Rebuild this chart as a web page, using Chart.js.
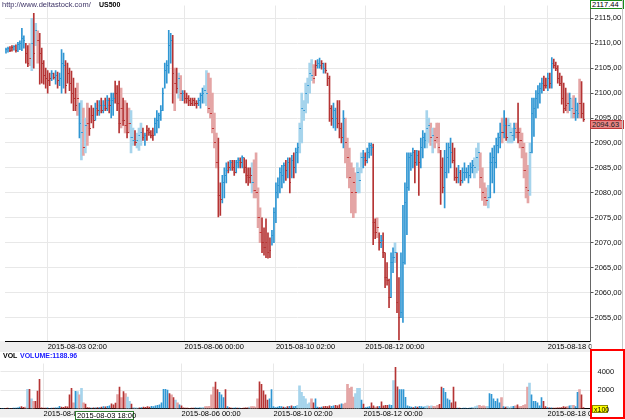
<!DOCTYPE html>
<html>
<head>
<meta charset="utf-8">
<script src="https://cdn.jsdelivr.net/npm/chart.js@4.4.0/dist/chart.umd.min.js"></script>
<style>
    body { margin: 0; width: 625px; height: 420px; overflow: hidden; position: relative; background: #fff; font-family: "Liberation Sans", Arial, sans-serif; }
    canvas { position: absolute; left: 0; }
    #main { top: 0; }
    #vol { top: 352px; }
    .txt { position: absolute; font-size: 7.5px; line-height: 9px; white-space: nowrap; }
    .box { position: absolute; box-sizing: border-box; font-size: 7.5px; line-height: 7px; white-space: nowrap; padding-left: 1px; }
</style>
</head>
<body>
<canvas id="main" width="625" height="352"></canvas>
<canvas id="vol" width="625" height="68"></canvas>

<div class="txt" style="left:2px;top:0;color:#3d3366">http://www.deltastock.com/</div>
<div class="txt" style="left:99px;top:0;color:#000;font-weight:bold;font-size:7px">US500</div>
<div class="txt" style="left:3px;top:351px;color:#000;font-weight:bold;font-size:7px">VOL</div>
<div class="txt" style="left:20px;top:351px;color:#1a1aff;font-weight:bold;font-size:7px">VOLUME:1188.96</div>

<div class="box" style="left:590px;top:0;width:34px;height:9px;border:1px solid #1a8a1a;background:#fff">2117.44</div>
<div class="box" id="lastBox" style="left:590px;top:116px;width:34px;height:9px;border:1px solid #c03838;background:#e88585;color:#222">2094.63</div>
<div style="position:absolute;left:622px;top:0;width:1px;height:349px;background:#c8c8c8"></div>
<div class="box" style="left:590px;top:349px;width:35px;height:70px;border:2px solid #ff0000"></div>
<div class="box" style="left:592px;top:405px;width:16px;height:8px;border:1px solid #8a8a00;background:#ffff00;font-size:7px">x100</div>
<div class="box" style="left:75px;top:411px;width:59px;height:9px;border:1px solid #2f7a2f;background:#fff">2015-08-03 18:00</div>

<script>
// hourly bars, 2015-07-31 .. 2015-08-18
const highs = [
    2109, 2109.2, 2109.3, 2109.5, 2109.5, 2109.7, 2110.2, 2110.5, 2113, 2111.5,
    2110, 2109.5, 2110, 2115, 2116, 2114, 2112.5, 2112, 2109, 2106.5,
    2105, 2104.5, 2104, 2104.5, 2104, 2104.5, 2104.2, 2104, 2108.7, 2108,
    2106.5, 2106, 2105, 2104.4, 2103, 2101, 2102, 2098, 2098.5, 2097,
    2095, 2098, 2097, 2097.5, 2097, 2098, 2098.5, 2098.5, 2099, 2098.5,
    2099, 2099.5, 2099, 2100, 2100, 2102.4, 2101.5, 2102.4, 2101, 2099,
    2098.5, 2098, 2097, 2096.5, 2093, 2092.5, 2092, 2093, 2094, 2093,
    2092, 2093.5, 2093, 2092.5, 2093, 2095, 2096.5, 2096, 2097.5, 2101,
    2106, 2106.5, 2112.6, 2112, 2111.6, 2105, 2105, 2104, 2103.5, 2100.5,
    2100.5, 2100, 2099.5, 2099, 2099, 2099, 2098.5, 2099, 2100, 2101,
    2101.5, 2104.5, 2104, 2103, 2100, 2096, 2092, 2091, 2082, 2083.5,
    2085, 2086, 2086.2, 2086.5, 2086.5, 2086.5, 2086.5, 2087, 2087, 2087.4,
    2087, 2086.6, 2085, 2085, 2086, 2086.6, 2088, 2081, 2077, 2075,
    2073, 2074.8, 2072, 2071, 2072.5, 2077, 2082, 2083, 2085, 2085.5,
    2086, 2086.5, 2087, 2087, 2087.5, 2088, 2089, 2090, 2094, 2100,
    2098.5, 2102, 2103, 2106, 2106.7, 2105.7, 2106.5, 2106.7, 2107, 2106.5,
    2106, 2106, 2104, 2103.4, 2097.5, 2098, 2097, 2098.5, 2098.5, 2094,
    2096.5, 2095, 2091, 2089, 2086, 2085, 2084, 2086, 2085, 2088,
    2088.5, 2088, 2089, 2090, 2090, 2089.8, 2074.8, 2075, 2072, 2071.5,
    2072, 2068, 2066, 2062.7, 2068, 2069, 2070, 2068, 2063, 2068,
    2077.5, 2082, 2088, 2088, 2088, 2089, 2088.5, 2088.5, 2088.4, 2091,
    2092.5, 2092, 2096.5, 2095, 2094, 2093, 2093, 2094, 2094, 2088.5,
    2087, 2088.5, 2090, 2090, 2091, 2090, 2089, 2085, 2085.5, 2084.5,
    2085, 2086, 2085, 2085.5, 2086, 2086.5, 2087, 2089, 2090, 2088,
    2085, 2082, 2081, 2081.5, 2088, 2089, 2089.5, 2091, 2092, 2094,
    2095, 2096.5, 2095, 2095, 2094, 2093, 2094, 2094, 2098, 2093,
    2092, 2090, 2088, 2085.5, 2090, 2099, 2099, 2100.5, 2101.5, 2102,
    2103, 2103.4, 2103, 2104, 2104, 2107.1, 2106.8, 2106.2, 2105.5, 2104,
    2103.4, 2102, 2101, 2100, 2100, 2099, 2099.5, 2099, 2098, 2102.8,
    2102.3, 2098
];
const lows = [
    2108, 2108.2, 2108.3, 2108.4, 2108.6, 2108.2, 2108.3, 2108.7, 2108.5, 2109,
    2106, 2105.3, 2105.5, 2104.5, 2105, 2109.5, 2106, 2101.8, 2102, 2101.8,
    2101, 2100, 2101.5, 2102.5, 2102.8, 2101.8, 2101, 2101.5, 2100, 2101,
    2100, 2102, 2100.5, 2098, 2096.5, 2096.5, 2095.5, 2091, 2086.6, 2087.5,
    2088, 2089.5, 2091.5, 2094, 2093, 2094.5, 2095.5, 2095.5, 2096, 2096,
    2096.5, 2096.5, 2096, 2095, 2095.5, 2098, 2096.5, 2092, 2093, 2093.5,
    2092, 2091, 2092, 2088, 2089.5, 2089.5, 2089, 2088.5, 2089.5, 2090.5,
    2089.5, 2090.5, 2091.5, 2091, 2090.5, 2091.5, 2092, 2093, 2094.5, 2096.5,
    2101, 2102, 2104, 2106, 2098, 2096.5, 2100, 2099, 2098.5, 2098.5,
    2098, 2098, 2097.5, 2097.5, 2097.5, 2097.5, 2097, 2097.5, 2097, 2098,
    2098, 2097.5, 2096, 2095, 2092, 2089, 2085, 2075.2, 2075.5, 2078,
    2079, 2082, 2084, 2084.5, 2084.5, 2083.5, 2084, 2085, 2085, 2085,
    2084, 2082, 2081.5, 2082, 2080, 2079, 2079, 2073, 2070, 2068,
    2067.5, 2067, 2066.9, 2067, 2069.5, 2070, 2074, 2079, 2080, 2081,
    2082, 2082.5, 2083, 2080, 2083, 2083, 2084, 2086, 2088, 2090,
    2094.5, 2096, 2098, 2100, 2102.5, 2102, 2103.5, 2105, 2105, 2104.8,
    2104, 2104, 2101.5, 2094.3, 2093.5, 2093, 2092.5, 2093, 2091, 2090,
    2089, 2086, 2083, 2081, 2076, 2075, 2076, 2080, 2080, 2084,
    2085, 2085.5, 2086, 2087, 2087.5, 2069.6, 2070.8, 2071, 2068.5, 2069,
    2067, 2061, 2061.5, 2057, 2059, 2064, 2066, 2056, 2050.5, 2055,
    2054, 2065.7, 2071.6, 2080.5, 2084.5, 2085, 2082, 2085.5, 2079.5, 2085,
    2087, 2089, 2089, 2090, 2089.5, 2088, 2089, 2090, 2088, 2077.7,
    2080, 2077, 2083, 2084, 2085, 2086, 2082.5, 2082, 2082, 2081.5,
    2082, 2082.5, 2083, 2082, 2083, 2084, 2083, 2084, 2084.5, 2081,
    2078.5, 2077.5, 2077.5, 2077, 2079, 2082, 2080, 2085, 2088, 2089,
    2090, 2091, 2090.5, 2090, 2090, 2090, 2090.5, 2091, 2090, 2089,
    2087, 2083, 2079, 2078, 2079.5, 2088, 2091.3, 2095, 2097, 2098,
    2100, 2100.5, 2101, 2100.5, 2101, 2101, 2105, 2104.5, 2102, 2101.5,
    2097.8, 2096, 2096.5, 2096, 2096.5, 2095, 2095, 2094.5, 2095, 2095,
    2095, 2094.3
];
const closes = [
    2108.7, 2109, 2108.5, 2109.2, 2109.3, 2108.6, 2109.8, 2110, 2111, 2110.5,
    2108, 2106, 2107, 2110, 2108, 2112.5, 2110.5, 2108, 2106, 2103.5,
    2103, 2102.5, 2103, 2104, 2103.2, 2103.5, 2102.5, 2103, 2106, 2105.5,
    2101.5, 2104, 2102, 2100, 2099, 2097.5, 2099, 2094, 2092, 2089,
    2093.5, 2094, 2093, 2095.5, 2094.5, 2097, 2096.5, 2097.5, 2096.5, 2097.5,
    2097, 2098.5, 2097.5, 2098.5, 2099, 2100, 2098, 2094, 2097, 2094.5,
    2093.5, 2092, 2094, 2091, 2090.5, 2090, 2090.5, 2091.5, 2092, 2091,
    2091.5, 2092.5, 2092, 2091.5, 2091.5, 2094, 2094.5, 2095.5, 2096.5, 2100,
    2104.5, 2105.5, 2109.5, 2110.5, 2104, 2102, 2101, 2103, 2100, 2100,
    2099, 2099, 2098.5, 2098, 2098.5, 2098, 2098, 2098.5, 2099.5, 2100,
    2100.5, 2100, 2097, 2096, 2093, 2090, 2086, 2079.5, 2078.7, 2082,
    2083.5, 2084.5, 2085, 2086, 2085, 2084, 2086, 2086.5, 2086, 2087,
    2085, 2083.5, 2083, 2083.5, 2082, 2080.5, 2080, 2075, 2072, 2070,
    2069, 2070, 2068, 2068.5, 2071.5, 2076, 2080, 2081.5, 2084, 2083.5,
    2085.5, 2084.5, 2086, 2082, 2086.5, 2085, 2088, 2089, 2093, 2097,
    2096.5, 2100, 2101.5, 2104, 2103.5, 2103, 2105.5, 2106, 2105.5, 2106,
    2105, 2104.5, 2103, 2097, 2095, 2096.5, 2095, 2094, 2093, 2091,
    2095, 2090, 2087, 2083, 2080, 2082, 2080, 2084, 2082.5, 2087,
    2087, 2086.5, 2088, 2089.5, 2089, 2074, 2072, 2073, 2070, 2070.5,
    2068, 2063, 2062.5, 2059, 2066, 2067, 2068, 2058, 2055, 2056,
    2066, 2078, 2081, 2087, 2087.5, 2088, 2086, 2087.5, 2086, 2089,
    2091, 2090.5, 2093, 2093.5, 2091, 2091.5, 2090.5, 2091, 2089, 2085,
    2081, 2084, 2087, 2089, 2088, 2086.5, 2083, 2083, 2084, 2082.5,
    2084, 2084, 2084, 2083.5, 2085, 2085.5, 2085, 2087, 2088, 2083,
    2080, 2079, 2078.5, 2079, 2086, 2087, 2086, 2089.5, 2091, 2092,
    2092, 2093.5, 2091, 2093.5, 2092, 2091.5, 2093, 2092, 2092, 2090.5,
    2089, 2084.5, 2081, 2080.5, 2088, 2096, 2097, 2099, 2100, 2101,
    2102, 2101.5, 2101.5, 2103, 2102, 2106, 2105.5, 2105, 2103, 2102,
    2099, 2097, 2097.5, 2098, 2099, 2097, 2096, 2096.5, 2096, 2098,
    2096, 2094.63
];
// U/D = up/down bar, u/d = the same drawn pale
const kinds = (
    "UUDDUDUUUU" + "DDduDudDDD" + "DDDUDUDUUU" + "DDDDDDdUud" + "udDDDUDUDU" +
    "DUDUUDDDdD" + "dDduuDuuuD" + "UDDDDUUUUU" + "UUUUDdDudU" + "DDDDDDDUUU" +
    "uudddddDDU" + "UUDUDDUUDU" + "DDDDuddddD" + "DDDDUUUUUU" + "UDUDUDUUuu" +
    "uuuuudDUUD" + "UDDDDUUDDD" + "Udddddduuu" + "UUDUUUDDdDU".slice(1) + "DDDDUUuDDU" +
    "UUUUUUDUDU" + "UUuududddD" + "DUUUUDDDUD" + "UUUUUUuuud" + "ddduUUUUUU" +
    "dUDuuuUdDd" + "dddduUUUUU" + "UDDUDUDDDD" + "DDDdUudUUd" + "DD"
).split("");
const volumes = [
    20, 30, 20, 40, 30, 20, 50, 40, 80, 150,
    200, 120, 150, 2100, 2100, 1060, 780, 780, 1900, 3200,
    60, 50, 40, 60, 30, 50, 40, 60, 70, 250,
    150, 120, 200, 180, 1500, 2200, 630, 1870, 1840, 1490,
    2200, 630, 490, 100, 60, 50, 80, 70, 90, 100,
    150, 200, 180, 250, 300, 500, 400, 600, 1530, 2350,
    1200, 1840, 1630, 1260, 780, 490, 100, 60, 50, 80,
    100, 150, 120, 200, 150, 250, 200, 300, 350, 400,
    630, 2100, 2100, 2000, 1630, 1490, 1200, 920, 630, 400,
    300, 60, 40, 50, 30, 40, 50, 60, 50, 80,
    100, 120, 200, 200, 250, 1500, 2350, 2900, 2060, 1780,
    1490, 1200, 2060, 200, 100, 50, 40, 60, 50, 40,
    30, 50, 60, 80, 150, 200, 200, 150, 1060, 2920,
    2630, 1920, 1490, 920, 1060, 2060, 200, 100, 150, 250,
    200, 150, 100, 200, 250, 300, 200, 250, 340, 2470,
    1780, 1340, 1060, 490, 630, 1060, 630, 1060, 150, 100,
    150, 200, 250, 200, 300, 250, 300, 350, 300, 400,
    500, 490, 600, 2630, 2200, 2350, 1260, 1630, 2200, 2200,
    920, 490, 100, 150, 200, 630, 300, 150, 200, 250,
    720, 300, 340, 340, 400, 340, 3060, 4510, 2380, 2060,
    2060, 2060, 1230, 300, 200, 150, 100, 200, 150, 250,
    200, 150, 250, 300, 250, 300, 250, 200, 340, 450,
    2350, 2200, 1780, 1060, 920, 630, 2350, 720, 50, 40,
    30, 50, 40, 30, 50, 60, 100, 200, 300, 340,
    250, 300, 200, 250, 1640, 1540, 1060, 780, 1060, 630,
    1200, 200, 150, 200, 100, 200, 250, 300, 400, 200,
    250, 340, 440, 2350, 2780, 1490, 780, 780, 630, 300,
    1200, 780, 200, 100, 80, 60, 50, 40, 60, 80,
    100, 200, 150, 200, 300, 340, 340, 200, 1780, 2060,
    1490, 100
];
const dateTickIdx = [21, 90, 136, 181, 251, 273];
const dateTickText = ["2015-08-03 02:00", "2015-08-06 00:00", "2015-08-10 02:00", "2015-08-12 00:00", "", "2015-08-18 00:00"];
const priceTicks = [2055, 2060, 2065, 2070, 2075, 2080, 2085, 2090, 2095, 2100, 2105, 2110, 2115];
const volTicks = [2000, 4000];
const lastPrice = 2094.63;

const SLOTS = 295;
const slots = Array.from({length: SLOTS}, (_, i) => i);
const FONT = {family: "'Liberation Sans', Arial, sans-serif", size: 7.5};

const barFill = {U: "#2f96d3", D: "#b53434", u: "#a6d4ec", d: "#e4a5a5"};
const tickFill = {U: "#2f96d3", D: "#b53434", u: "#3a9ad4", d: "#c23a3a"};
const isPale = k => k === "u" || k === "d";

// close mark: 3x1 sprite, left pixel empty so it sits on the bar and one pixel right of it
let closeMarks = {};
for (const k in tickFill) {
    let c = document.createElement("canvas");
    c.width = 3;
    c.height = 1;
    let g = c.getContext("2d");
    g.fillStyle = tickFill[k];
    g.fillRect(1, 0, 2, 1);
    closeMarks[k] = c;
}

const darkRanges = highs.map((h, i) => isPale(kinds[i]) ? null : [lows[i], h]);
const paleRanges = highs.map((h, i) => isPale(kinds[i]) ? [lows[i], h] : null);
const darkVol = volumes.map((v, i) => isPale(kinds[i]) ? null : v);
const paleVol = volumes.map((v, i) => isPale(kinds[i]) ? v : null);

let stripPlugin = {
    id: "strip",
    beforeDraw(chart) {
        const x = chart.scales.x;
        const ctx = chart.ctx;
        ctx.save();
        ctx.fillStyle = "#efefef";
        ctx.fillRect(0, x.top, x.right, x.bottom - x.top);
        ctx.restore();
    },
    afterDraw(chart) {
        // labels past the plot are hidden behind the price axis
        const x = chart.scales.x;
        const ctx = chart.ctx;
        ctx.save();
        ctx.fillStyle = "#fff";
        ctx.fillRect(x.right + 1, x.top + 1, chart.width - x.right, x.bottom - x.top);
        ctx.restore();
    }
};

function dateAxis(height) {
    return {
        type: "category",
        offset: true,
        grid: {color: "#e8e8e8", offset: false, drawTicks: false},
        border: {color: "#000"},
        ticks: {
            autoSkip: false, maxRotation: 0, minRotation: 0, align: "start", padding: 1,
            font: FONT, color: "#000",
            callback: v => dateTickText[dateTickIdx.indexOf(v)] || ""
        },
        afterBuildTicks: s => { s.ticks = dateTickIdx.map(v => ({value: v})); },
        afterFit: s => { s.height = height; }
    };
}

function barSet(data, thickness, order) {
    return {
        type: "bar", data: data, grouped: false, order: order,
        barThickness: thickness, maxBarThickness: thickness,
        backgroundColor: ctx => barFill[kinds[ctx.dataIndex]]
    };
}

let priceChart = new Chart(document.getElementById("main"), {
    data: {
        labels: slots,
        datasets: [
            barSet(paleRanges, 2, 3),
            barSet(darkRanges, 1, 2),
            {
                type: "line", data: closes, showLine: false, order: 1,
                pointStyle: ctx => closeMarks[kinds[ctx.dataIndex]],
                pointRadius: 1.5
            }
        ]
    },
    options: {
        responsive: false, animation: false, events: [],
        layout: {padding: {left: 0.5, right: 0, top: 0, bottom: 0}},
        plugins: {legend: {display: false}, tooltip: {enabled: false}},
        scales: {
            x: dateAxis(11),
            y: {
                position: "right", min: 2050.3, max: 2117.56,
                grid: {color: "#e8e8e8", tickLength: 3, tickColor: "#555"},
                border: {color: "#666"},
                ticks: {font: FONT, color: "#111", padding: 1, callback: v => v.toFixed(2).replace(".", ",")},
                afterBuildTicks: s => { s.ticks = priceTicks.map(v => ({value: v})); },
                afterFit: s => { s.width = 34.5; }
            }
        }
    },
    plugins: [stripPlugin]
});

// last price marker sits on the axis at the close level
document.getElementById("lastBox").style.top = Math.round(priceChart.scales.y.getPixelForValue(lastPrice)) + "px";

new Chart(document.getElementById("vol"), {
    data: {
        labels: slots,
        datasets: [
            barSet(paleVol, 2, 2),
            barSet(darkVol, 1, 1)
        ]
    },
    options: {
        responsive: false, animation: false, events: [],
        layout: {padding: {left: 0.5, right: 0, top: 0, bottom: 0}},
        plugins: {legend: {display: false}, tooltip: {enabled: false}},
        scales: {
            x: dateAxis(9),
            y: {
                position: "right", min: 0, max: 4917,
                grid: {color: "#e8e8e8", drawTicks: false},
                border: {display: false},
                ticks: {font: FONT, color: "#111", padding: 7, callback: v => String(v)},
                afterBuildTicks: s => { s.ticks = volTicks.map(v => ({value: v})); },
                afterFit: s => { s.width = 34.5; }
            }
        }
    },
    plugins: [stripPlugin]
});
</script>
</body>
</html>
